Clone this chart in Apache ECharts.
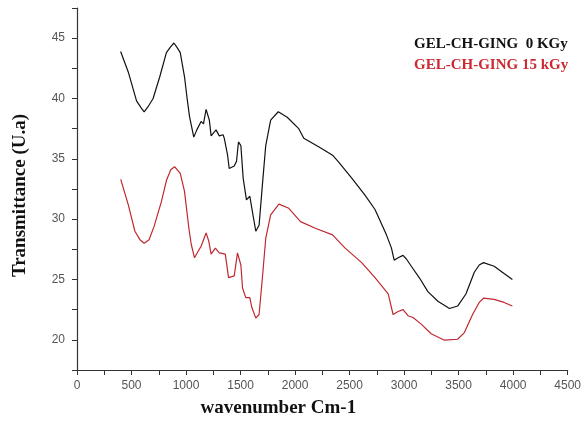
<!DOCTYPE html>
<html>
<head>
<meta charset="utf-8">
<script src="https://cdn.jsdelivr.net/npm/echarts@6/dist/echarts.min.js"></script>
<style>
html,body{margin:0;padding:0;background:#fff;}
#chart{width:584px;height:423px;}
</style>
</head>
<body>
<div id="chart"></div>
<script>
// Series names
var seriesNames = ['GEL-CH-GING  0 KGy', 'GEL-CH-GING 15 kGy'];

// GEL-CH-GING 0 KGy (black)
var wavenumber0 = [400, 470, 546, 590, 616, 650, 698, 759, 820, 860, 889, 920, 947, 986, 1010, 1032, 1071, 1099, 1138, 1160, 1184, 1214, 1230, 1275, 1305, 1340, 1351, 1381, 1396, 1442, 1463, 1481, 1503, 1524, 1554, 1585, 1609, 1640, 1655, 1670, 1700, 1731, 1776, 1846, 1928, 2034, 2080, 2216, 2344, 2398, 2520, 2641, 2733, 2838, 2884, 2909, 2945, 2990, 3021, 3066, 3143, 3218, 3310, 3416, 3491, 3567, 3644, 3689, 3728, 3826, 3901, 3993];
var transmittance0 = [43.9, 42.2, 39.8, 39.2, 38.9, 39.3, 40.0, 41.8, 43.8, 44.3, 44.6, 44.2, 43.8, 41.8, 40.0, 38.5, 36.8, 37.4, 38.1, 37.9, 39.1, 38.2, 36.9, 37.4, 36.9, 37.0, 36.7, 35.3, 34.2, 34.4, 34.8, 36.4, 36.1, 33.4, 31.6, 31.9, 30.6, 29.0, 28.9, 29.5, 32.8, 36.1, 38.2, 38.9, 38.45, 37.5, 36.7, 36.0, 35.3, 34.75, 33.4, 32.0, 30.8, 28.7, 27.6, 26.6, 26.8, 27.0, 26.7, 26.1, 25.1, 24.0, 23.2, 22.6, 22.8, 23.8, 25.6, 26.2, 26.4, 26.1, 25.6, 25.0];

// GEL-CH-GING 15 kGy (red)
var wavenumber15 = [401, 470, 531, 577, 616, 661, 707, 774, 820, 860, 895, 947, 986, 1026, 1048, 1078, 1108, 1138, 1184, 1208, 1230, 1269, 1305, 1360, 1390, 1442, 1472, 1503, 1518, 1548, 1585, 1603, 1640, 1670, 1700, 1731, 1776, 1852, 1943, 2050, 2186, 2344, 2459, 2611, 2733, 2854, 2899, 2945, 2990, 3036, 3082, 3157, 3248, 3370, 3491, 3553, 3628, 3689, 3728, 3826, 3917, 3993];
var transmittance15 = [33.3, 31.2, 29.0, 28.3, 28.0, 28.3, 29.4, 31.45, 33.2, 34.1, 34.35, 33.8, 32.3, 29.25, 27.9, 26.8, 27.3, 27.75, 28.85, 28.2, 27.1, 27.6, 27.2, 27.1, 25.15, 25.3, 27.2, 26.2, 24.3, 23.5, 23.5, 22.7, 21.8, 22.1, 25.1, 28.4, 30.35, 31.25, 30.9, 29.8, 29.25, 28.7, 27.6, 26.4, 25.15, 23.8, 22.1, 22.35, 22.5, 22.0, 21.85, 21.3, 20.5, 19.97, 20.05, 20.6, 22.1, 23.1, 23.45, 23.35, 23.1, 22.8];

// Tick labels
var xTickLabels = [0, 500, 1000, 1500, 2000, 2500, 3000, 3500, 4000, 4500];
var yTickLabels = [20, 25, 30, 35, 40, 45];

function pairs(xs, ys) {
  var out = [];
  for (var i = 0; i < xs.length; i++) out.push([xs[i], ys[i]]);
  return out;
}

var chart = echarts.init(document.getElementById('chart'), null, {renderer: 'canvas'});
var axisLabelStyle = {color: '#555', fontFamily: 'Liberation Sans, Arial, sans-serif', fontSize: 12};
var titleStyle = {color: '#111', fontFamily: 'Liberation Serif, Times New Roman, serif', fontWeight: 'bold', fontSize: 19};

chart.setOption({
  animation: false,
  backgroundColor: '#fff',
  grid: {left: 77, right: 13, top: 8, bottom: 50},
  legend: {
    data: [
      {name: seriesNames[0], textStyle: {color: '#111'}},
      {name: seriesNames[1], textStyle: {color: '#cc2a33'}}
    ],
    orient: 'vertical',
    left: 404,
    top: 32,
    icon: 'none',
    itemWidth: 0,
    itemHeight: 10,
    itemGap: 6,
    selectedMode: false,
    textStyle: {fontFamily: 'Liberation Serif, Times New Roman, serif', fontWeight: 'bold', fontSize: 15}
  },
  xAxis: {
    type: 'value',
    min: 0, max: 4500, interval: 250,
    name: 'wavenumber Cm-1',
    nameLocation: 'middle',
    nameGap: 29,
    nameTextStyle: Object.assign({padding: [0, 88, 0, 0]}, titleStyle),
    axisLine: {lineStyle: {color: '#333', width: 1.2}},
    axisTick: {inside: false, length: 5, lineStyle: {color: '#333'}},
    axisLabel: Object.assign({
      margin: 10,
      formatter: function (v) { return xTickLabels.indexOf(v) >= 0 ? String(v) : ''; }
    }, axisLabelStyle),
    splitLine: {show: false}
  },
  yAxis: {
    type: 'value',
    min: 17.5, max: 47.5, interval: 2.5,
    name: 'Transmittance (U.a)',
    nameLocation: 'middle',
    nameGap: 47,
    nameTextStyle: Object.assign({padding: [0, 13, 0, 0]}, titleStyle),
    axisLine: {show: true, lineStyle: {color: '#333', width: 1.2}},
    axisTick: {show: true, inside: false, length: 5, lineStyle: {color: '#333'}},
    axisLabel: Object.assign({
      margin: 12,
      formatter: function (v) { return yTickLabels.indexOf(v) >= 0 ? String(v) : ''; }
    }, axisLabelStyle),
    splitLine: {show: false}
  },
  series: [
    {
      name: seriesNames[0], type: 'line', showSymbol: false,
      data: pairs(wavenumber0, transmittance0),
      lineStyle: {color: '#111', width: 1.2},
      itemStyle: {color: '#111'}
    },
    {
      name: seriesNames[1], type: 'line', showSymbol: false,
      data: pairs(wavenumber15, transmittance15),
      lineStyle: {color: '#c0282f', width: 1.2},
      itemStyle: {color: '#c0282f'}
    }
  ]
});
</script>
</body>
</html>
